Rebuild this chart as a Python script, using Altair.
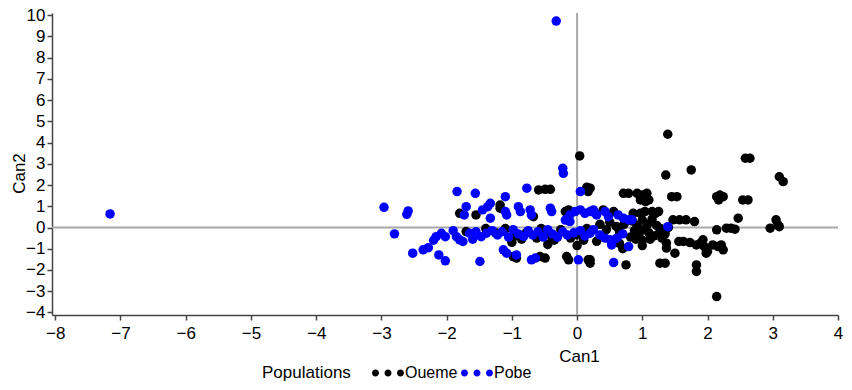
import altair as alt
import pandas as pd

populations = ["Oueme", "Pobe"]
colors = ["#000000", "#0000ff"]
x_ticks = list(range(-8, 5))
y_ticks = list(range(-4, 11))

oueme = [
    (1.39, 4.39), (0.04, 3.37), (1.36, 2.47), (1.75, 2.71), (2.58, 3.26), (2.65, 3.26), (3.10, 2.39), (3.16, 2.16),
    (-0.59, 1.77), (-0.49, 1.80), (-0.41, 1.80), (0.15, 1.90), (0.17, 1.69), (0.20, 1.85),
    (0.71, 1.61), (0.79, 1.61), (0.92, 1.61), (1.00, 1.53), (1.07, 1.61), (0.97, 1.30), (1.05, 1.22), (1.10, 1.30),
    (1.45, 1.45), (1.53, 1.45), (2.14, 1.45), (2.19, 1.53), (2.24, 1.45), (2.17, 1.30), (2.54, 1.30), (2.62, 1.30),
    (2.47, 0.44),
    (-1.80, 0.67), (-1.55, 0.59), (-1.18, 1.06), (-1.18, 0.91), (-0.67, 0.51), (-0.18, 0.75), (-0.13, 0.83),
    (0.40, 0.83), (0.56, 0.75), (0.86, 0.67), (0.97, 0.67), (1.04, 0.75), (1.15, 0.75), (1.20, 0.67), (1.25, 0.75),
    (1.47, 0.36), (1.57, 0.36), (1.67, 0.36), (1.80, 0.28),
    (2.14, -0.11), (2.29, -0.03), (2.36, -0.03), (2.42, -0.08), (2.96, -0.03), (3.05, 0.36), (3.08, 0.12), (3.10, 0.04),
    (1.89, -0.74), (1.95, -0.90), (2.00, -1.13), (2.08, -0.82), (2.16, -0.90), (2.21, -0.82), (2.24, -1.05), (1.98, -1.21),
    (1.56, -0.66), (1.63, -0.66), (1.73, -0.71), (1.83, -0.82), (1.93, -0.58), (1.37, -0.74), (1.37, -0.97), (1.50, -1.21),
    (1.27, -1.68), (1.35, -1.68), (1.83, -1.76), (1.83, -2.07), (2.14, -3.25), (0.75, -1.76), (0.20, -1.52), (0.17, -1.52),
    (0.20, -1.68), (-0.16, -1.37), (-0.13, -1.52), (-0.57, -1.37), (-0.49, -1.44), (-0.98, -1.37), (-0.93, -1.44),
    (-1.70, -0.19),
    (0.85, 0.30), (0.92, 0.10), (1.00, 0.35), (1.08, 0.15), (1.15, 0.40), (1.22, 0.10), (1.28, -0.05), (0.88, -0.15),
    (0.95, -0.30), (1.02, -0.10), (1.10, -0.25), (1.18, -0.40), (1.25, -0.30), (0.82, -0.45), (0.90, -0.55), (1.00, -0.60),
    (1.12, -0.55), (1.30, -0.50), (0.65, -0.20), (0.60, 0.05), (0.72, 0.15), (0.45, -0.10), (0.35, 0.15), (0.50, 0.25),
    (-1.25, -0.25), (-1.10, -0.05), (-0.95, -0.40), (-0.85, -0.55), (-0.78, -0.25), (-0.62, -0.50), (-0.55, -0.05),
    (-0.40, -0.40), (-0.35, -0.60), (-0.25, -0.10), (-0.10, -0.50), (0.00, -0.35), (0.10, -0.60), (0.15, -0.05),
    (-1.00, -0.70), (-1.40, -0.05), (-0.45, -0.80), (0.00, -0.85), (0.30, -0.65), (0.65, -0.75), (0.70, -1.00),
    (1.00, -0.85), (1.35, -0.30), (1.40, 0.00),
]

pobe = [
    (-7.16, 0.64), (-0.32, 9.72),
    (-2.96, 0.95), (-2.59, 0.78), (-2.61, 0.62), (-2.80, -0.30), (-2.52, -1.21), (-2.36, -1.05), (-2.28, -0.95),
    (-2.12, -1.29), (-2.02, -1.57), (-2.16, -0.43), (-2.08, -0.27), (-2.02, -0.43), (-2.20, -0.60), (-1.85, -0.43),
    (-1.80, -0.58), (-1.75, -0.66),
    (-1.84, 1.69), (-1.56, 1.61), (-1.70, 0.98), (-1.73, 0.59), (-1.45, 0.83), (-1.37, 0.98), (-1.65, -0.27),
    (-1.49, -1.60), (-1.47, -0.43), (-1.39, -0.27), (-1.33, 0.44), (-1.33, 1.14), (-1.10, 1.45),
    (-1.10, 0.75), (-1.08, 0.59), (-0.90, 0.98), (-0.87, 0.75), (-0.72, 0.83), (-0.70, 0.59), (-0.41, 0.91),
    (-0.39, 0.75), (-0.77, 1.85), (-0.22, 2.79), (-0.21, 2.55), (0.05, 1.69),
    (-1.13, -1.05), (-1.08, -1.21), (-0.93, -1.29), (-0.70, -1.52), (-0.64, -1.44), (0.02, -1.52), (0.56, -1.65),
    (-0.11, 0.59), (-0.03, 0.75), (0.05, 0.83), (0.12, 0.67), (0.20, 0.75), (0.28, 0.67), (0.25, 0.83), (0.30, 0.59),
    (0.43, 0.75), (0.48, 0.51), (0.63, 0.59), (0.71, 0.44), (0.79, 0.36), (0.84, 0.36), (-0.18, 0.35), (-0.11, 0.28),
    (1.39, 0.04),
    (-1.30, -0.15), (-1.22, -0.35), (-1.15, -0.20), (-1.05, -0.45), (-0.98, -0.10), (-0.90, -0.30), (-0.82, -0.42),
    (-0.75, -0.15), (-0.68, -0.35), (-0.60, -0.20), (-0.52, -0.45), (-0.45, -0.10), (-0.38, -0.30), (-0.30, -0.45),
    (-0.22, -0.20), (-0.15, -0.35), (-0.05, -0.25), (0.05, -0.15), (0.12, -0.40), (0.20, -0.27), (0.35, -0.35),
    (0.43, -0.50), (0.51, -0.58), (0.61, -0.50), (0.79, -0.90), (0.53, -0.82), (0.70, -0.30), (0.25, -0.10),
    (-1.60, -0.55), (-1.55, -0.20), (-1.90, -0.15),
]

rows = [{"Can1": x, "Can2": y, "Populations": "Oueme"} for x, y in oueme]
rows += [{"Can1": x, "Can2": y, "Populations": "Pobe"} for x, y in pobe]
df = pd.DataFrame(rows)

FONT = "Liberation Sans"
xscale = alt.Scale(domain=[-8.05, 4.0], nice=False, zero=False)
yscale = alt.Scale(domain=[-4.12, 10.1], nice=False, zero=False)

xaxis = alt.Axis(values=x_ticks, title="Can1", titleX=527, titleY=33, labelPadding=5,
                 titleBaseline="top", titleAlign="center")
yaxis = alt.Axis(values=y_ticks, title="Can2", titleX=-33, titleY=160,
                 titleAngle=270, titleAlign="center", titleBaseline="middle")

# three small dots drawn to the right of a 10px legend symbol box
three_dots = (
    "M -1,0 a 0.7,0.7 0 1,0 1.4,0 a 0.7,0.7 0 1,0 -1.4,0 Z "
    "M 1.5,0 a 0.7,0.7 0 1,0 1.4,0 a 0.7,0.7 0 1,0 -1.4,0 Z "
    "M 4,0 a 0.7,0.7 0 1,0 1.4,0 a 0.7,0.7 0 1,0 -1.4,0 Z"
)

zero = pd.DataFrame({"v": [0]})
vline = alt.Chart(zero).mark_rule(color="#a8a8a8", strokeWidth=2).encode(
    x=alt.X("v:Q", scale=xscale, axis=xaxis))
hline = alt.Chart(zero).mark_rule(color="#a8a8a8", strokeWidth=2).encode(
    y=alt.Y("v:Q", scale=yscale, axis=yaxis))

points = alt.Chart(df).mark_circle(size=90, opacity=1).encode(
    x=alt.X("Can1:Q", scale=xscale, axis=xaxis),
    y=alt.Y("Can2:Q", scale=yscale, axis=yaxis),
    color=alt.Color("Populations:N", scale=alt.Scale(domain=populations, range=colors),
                    legend=alt.Legend(orient="none", legendX=210, legendY=352, direction="horizontal",
                                      titleOrient="left", symbolType=three_dots, symbolSize=100,
                                      symbolStrokeWidth=0, labelOffset=20, columnPadding=0,
                                      titlePadding=18, titleBaseline="middle",
                                      titleFontSize=17)),
)

chart = alt.layer(vline, hline, points).properties(
    width=786, height=302,
    autosize=alt.AutoSizeParams(type="none"),
    padding={"left": 44, "top": 5, "right": 6, "bottom": 67},
).configure_view(stroke=None).configure_axis(
    grid=False, domainColor="#444444", tickColor="#444444", domainWidth=1.5, tickWidth=1.5,
    tickSize=5, labelColor="#000000", labelFont=FONT, labelFontSize=17, labelPadding=2,
    labelFlush=False, labelOverlap=False, titleFont=FONT, titleFontSize=17,
    titleFontWeight="normal", titleColor="#000000",
).configure_legend(
    labelFont=FONT, labelFontSize=16, titleFont=FONT,
    titleFontWeight="normal", titleColor="#000000", labelColor="#000000",
)

chart.save("out.html", embed_options={"renderer": "svg", "actions": False})
